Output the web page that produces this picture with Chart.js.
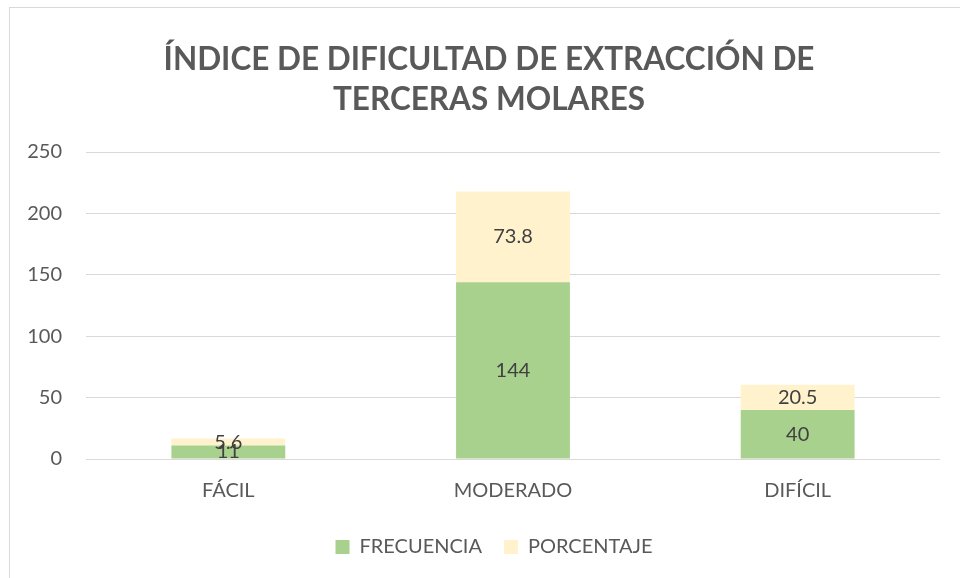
<!DOCTYPE html>
<html>
<head>
<meta charset="utf-8">
<script src="https://cdn.jsdelivr.net/npm/chart.js@4"></script>
<style>
  html, body { margin: 0; padding: 0; background: #fff; overflow: hidden; }
  #frame { position: absolute; left: 9px; top: 7px; width: 1000px; height: 600px;
           border-left: 1px solid #d9d9d9; border-top: 1px solid #d9d9d9; }
  #wrap { position: absolute; left: 0; top: 0; width: 960px; height: 578px; }
</style>
</head>
<body>
<div id="frame"></div>
<div id="wrap"><canvas id="myChart" width="960" height="578"></canvas></div>
<script>
const categories = ['FÁCIL', 'MODERADO', 'DIFÍCIL'];
const frecuencia = [11, 144, 40];
const porcentaje = [5.6, 73.8, 20.5];
const yTicks = [0, 50, 100, 150, 200, 250];

const FONT = 'Lato, "Open Sans", sans-serif';

// draws the value in the middle of each bar segment
const barLabels = {
  id: 'barLabels',
  afterDatasetsDraw(chart) {
    const ctx = chart.ctx;
    ctx.save();
    ctx.font = '20px ' + FONT;
    ctx.fillStyle = '#404040';
    ctx.textAlign = 'center';
    ctx.textBaseline = 'middle';
    chart.data.datasets.forEach((ds, i) => {
      chart.getDatasetMeta(i).data.forEach((bar, j) => {
        const y = (bar.y + bar.base) / 2;
        ctx.fillText(String(ds.data[j]), bar.x, y);
      });
    });
    ctx.restore();
  }
};

// title and legend sit a bit right of centre in the original
const nudge = {
  id: 'nudge',
  afterLayout(chart) {
    chart.titleBlock.left += 14;
    chart.titleBlock.right += 14;
    chart.legend.left += 19;
    chart.legend.right += 19;
  }
};

let myChart = document.getElementById('myChart').getContext('2d');
let barChart = new Chart(myChart, {
  type: 'bar',
  data: {
    labels: categories,
    datasets: [{
      label: 'FRECUENCIA',
      data: frecuencia,
      backgroundColor: '#a9d18e'
    }, {
      label: 'PORCENTAJE',
      data: porcentaje,
      backgroundColor: '#fff2cc'
    }]
  },
  options: {
    responsive: false,
    animation: false,
    layout: { padding: { left: 10, right: 20, top: 20, bottom: 11 } },
    datasets: { bar: { categoryPercentage: 1, barPercentage: 0.4 } },
    scales: {
      x: {
        stacked: true,
        grid: { display: false },
        border: { display: false },
        ticks: { color: '#595959', font: { family: FONT, size: 20 }, padding: 12 }
      },
      y: {
        stacked: true,
        min: 0,
        max: 250,
        afterBuildTicks(axis) { axis.ticks = yTicks.map(v => ({ value: v })); },
        afterFit(axis) { axis.width = 76; },
        grid: { color: '#d9d9d9', drawTicks: false },
        border: { display: false },
        ticks: { color: '#595959', font: { family: FONT, size: 20 }, padding: 24 }
      }
    },
    plugins: {
      title: {
        display: true,
        text: ['ÍNDICE DE DIFICULTAD DE EXTRACCIÓN DE', 'TERCERAS MOLARES'],
        color: '#595959',
        font: { family: FONT, size: 31.5, weight: 'bold', lineHeight: 1.27 },
        padding: { top: 20, bottom: 32 }
      },
      legend: {
        position: 'bottom',
        labels: {
          color: '#595959',
          font: { family: FONT, size: 20 },
          boxWidth: 14,
          boxHeight: 14,
          padding: 22
        }
      },
      tooltip: { enabled: false }
    }
  },
  plugins: [barLabels, nudge]
});
</script>
</body>
</html>
